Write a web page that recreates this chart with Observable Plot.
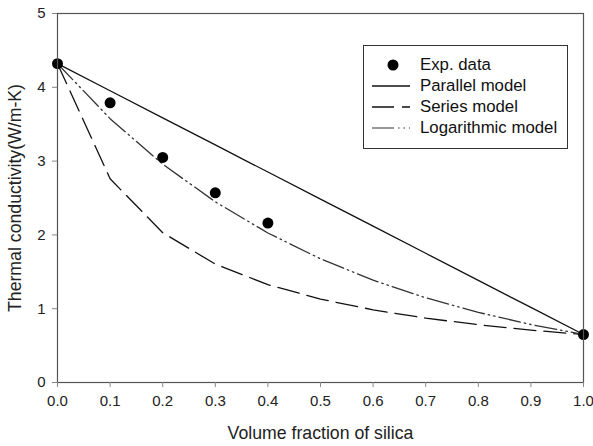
<!DOCTYPE html>
<html>
<head>
<meta charset="utf-8">
<script src="https://cdn.jsdelivr.net/npm/d3@7"></script>
<script src="https://cdn.jsdelivr.net/npm/@observablehq/plot@0.6"></script>
<style>
  html, body { margin: 0; padding: 0; background: #fff; }
  #wrap { position: relative; width: 593px; height: 446px; font-family: "Liberation Sans", Arial, sans-serif; }
  #legend { position: absolute; left: 363px; top: 45px; width: 205px; height: 104px; border: 1px solid #333; background: #fff; box-sizing: border-box; }
  .row { position: absolute; left: 0; height: 20px; }
  .row svg { position: absolute; left: 8px; top: 0; }
  .row span { position: absolute; left: 56px; white-space: nowrap; font-size: 16.8px; color: #111; line-height: 20px; }
</style>
</head>
<body>
<div id="wrap"></div>
<script>
// Data
const phi = [0.0, 0.1, 0.2, 0.3, 0.4, 0.5, 0.6, 0.7, 0.8, 0.9, 1.0];
const parallelModel = [4.32, 3.953, 3.586, 3.219, 2.852, 2.485, 2.118, 1.751, 1.384, 1.017, 0.65];
const seriesModel = [4.32, 2.76, 2.03, 1.604, 1.326, 1.13, 0.985, 0.872, 0.783, 0.71, 0.65];
const logModel = [4.32, 3.575, 2.958, 2.448, 2.026, 1.676, 1.387, 1.148, 0.95, 0.786, 0.65];
const expPhi = [0.0, 0.1, 0.2, 0.3, 0.4, 1.0];
const expK = [4.32, 3.79, 3.05, 2.57, 2.16, 0.65];
const xTicks = [0.0, 0.1, 0.2, 0.3, 0.4, 0.5, 0.6, 0.7, 0.8, 0.9, 1.0];
const yTicks = [0, 1, 2, 3, 4, 5];
const legendLabels = ["Exp. data", "Parallel model", "Series model", "Logarithmic model"];
const xLabel = "Volume fraction of silica";
const yLabel = "Thermal conductivity(W/m-K)";

const lineData = (vals) => phi.map((p, i) => ({x: p, y: vals[i]}));
const expData = expPhi.map((p, i) => ({x: p, y: expK[i]}));

const seriesDash = "22,8";
const logDash = "22,4,1.5,4,1.5,4";

const chart = Plot.plot({
  width: 593,
  height: 446,
  marginLeft: 57,
  marginRight: 10,
  marginTop: 13,
  marginBottom: 64,
  style: {fontFamily: '"Liberation Sans", Arial, sans-serif', fontSize: "15px", color: "#222", background: "#fff"},
  x: {domain: [0, 1]},
  y: {domain: [0, 5]},
  marks: [
    Plot.line(lineData(parallelModel), {x: "x", y: "y", stroke: "#111", strokeWidth: 1.3}),
    Plot.line(lineData(seriesModel), {x: "x", y: "y", stroke: "#111", strokeWidth: 1.3, strokeDasharray: seriesDash}),
    Plot.line(lineData(logModel), {x: "x", y: "y", stroke: "#333", strokeWidth: 1.3, strokeDasharray: logDash}),
    Plot.dot(expData, {x: "x", y: "y", r: 5.5, fill: "#000", stroke: "none"}),
    Plot.frame({stroke: "#555", strokeWidth: 1.2}),
    Plot.axisX(xTicks, {tickFormat: d3.format(".1f"), tickSize: 5, tickPadding: 8, stroke: "#888", fontSize: 15, label: null}),
    Plot.axisY(yTicks, {tickFormat: d3.format("d"), tickSize: 5, tickPadding: 7, stroke: "#888", fontSize: 15, label: null}),
    Plot.text([xLabel], {frameAnchor: "bottom", dy: 51, fontSize: 17.7, textAnchor: "middle", lineAnchor: "middle", fill: "#222"}),
    Plot.text([yLabel], {frameAnchor: "left", dx: -42, rotate: -90, fontSize: 17.7, textAnchor: "middle", lineAnchor: "middle", fill: "#222"})
  ]
});

const wrap = document.getElementById("wrap");
wrap.appendChild(chart);

// Legend overlay
const legend = document.createElement("div");
legend.id = "legend";
const samples = [
  `<circle cx="21" cy="10" r="5.5" fill="#000"/>`,
  `<line x1="0" y1="10" x2="38" y2="10" stroke="#111" stroke-width="1.3"/>`,
  `<line x1="0" y1="10" x2="38" y2="10" stroke="#111" stroke-width="1.3" stroke-dasharray="${seriesDash}"/>`,
  `<line x1="0" y1="10" x2="38" y2="10" stroke="#777" stroke-width="1.6" stroke-dasharray="${logDash}"/>`
];
legendLabels.forEach((lab, i) => {
  const row = document.createElement("div");
  row.className = "row";
  row.style.top = (9 + i * 21) + "px";
  row.style.width = "100%";
  row.innerHTML = `<svg width="40" height="20">${samples[i]}</svg><span>${lab}</span>`;
  legend.appendChild(row);
});
wrap.appendChild(legend);
</script>
</body>
</html>
